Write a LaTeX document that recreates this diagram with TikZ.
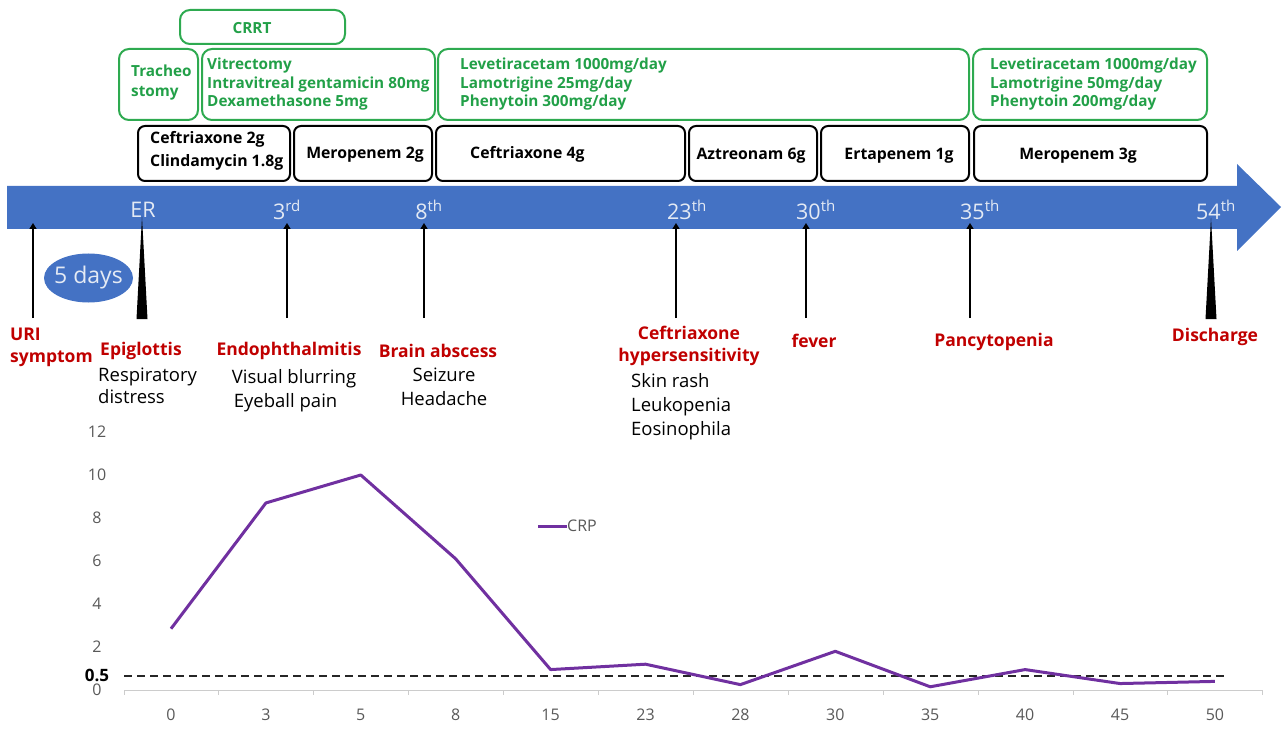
\documentclass[tikz,border=0pt]{standalone}
\usepackage{fontspec}
\setmainfont{Open Sans}
\usetikzlibrary{arrows.meta,shapes.geometric}
\definecolor{tlblue}{HTML}{4472C4}
\definecolor{tltext}{HTML}{E4EAF4}
\definecolor{grn}{HTML}{2EAA50}
\definecolor{grntext}{HTML}{22A048}
\definecolor{dred}{HTML}{C00000}
\definecolor{purp}{HTML}{7030A0}
\definecolor{axgray}{HTML}{595959}
\newcommand{\fs}[2]{\fontsize{#1}{#2}\selectfont}
\tikzset{
  drugbox/.style={draw=black, line width=2pt, rounded corners=7pt, inner sep=0pt},
  procbox/.style={draw=grn, line width=2pt, rounded corners=10pt, inner sep=0pt},
  drugtext/.style={inner sep=0pt, font=\bfseries\fs{15.8}{23}, align=left},
  proctext/.style={inner sep=0pt, font=\bfseries\fs{15.3}{18.5}, align=left, text=grntext},
  bandtext/.style={inner sep=0pt, text=tltext, font=\fs{21.5}{24}},
  evtred/.style={inner sep=0pt, text=dred, font=\bfseries\fs{17.5}{22}, align=center},
  evtblack/.style={inner sep=0pt, text=black, font=\fs{18.5}{24}},
  uparrow/.style={line width=2pt, -{Triangle[width=7pt,length=6pt]}},
  axlabel/.style={inner sep=0pt, text=axgray, font=\fs{16}{18}},
}
\begin{document}
\begin{tikzpicture}[x=1pt,y=-1pt]
\useasboundingbox (0,0) rectangle (1288,730);
% ---------- timeline band ----------
\fill[tlblue] (7,186) -- (1237,186) -- (1237,164) -- (1281,207) -- (1237,251) -- (1237,229) -- (7,229) -- cycle;
\node[bandtext] (tER) at (143,210) {ER};
\node[bandtext] (t3) at (287,210) {3\textsuperscript{rd}};
\node[bandtext] (t8) at (429,210) {8\textsuperscript{th}};
\node[bandtext] (t23) at (687,210) {23\textsuperscript{th}};
\node[bandtext] (t30) at (816,210) {30\textsuperscript{th}};
\node[bandtext] (t35) at (980,210) {35\textsuperscript{th}};
\node[bandtext] (t54) at (1216,210) {54\textsuperscript{th}};
% ---------- green procedure boxes ----------
\node[procbox, minimum width=165pt, minimum height=34pt] (crrt) at (262.5,27) {};
\node[proctext] (crrtT) at (252,28) {CRRT};
\node[procbox, minimum width=79pt, minimum height=71pt] (g1) at (158.5,84.5) {};
\node[proctext, anchor=west, font=\bfseries\fs{15.3}{20}] (g1T) at (131,83) {Tracheo\\stomy};
\node[procbox, minimum width=233pt, minimum height=71pt] (g2) at (318.5,84.5) {};
\node[proctext, anchor=west] (g2T) at (207,84.5) {Vitrectomy\\Intravitreal gentamicin 80mg\\Dexamethasone 5mg};
\node[procbox, minimum width=531pt, minimum height=71pt] (g3) at (703.5,84.5) {};
\node[proctext, anchor=west] (g3T) at (460,84.5) {Levetiracetam 1000mg/day\\Lamotrigine 25mg/day\\Phenytoin 300mg/day};
\node[procbox, minimum width=234pt, minimum height=71pt] (g4) at (1090,84.5) {};
\node[proctext, anchor=west] (g4T) at (990,84.5) {Levetiracetam 1000mg/day\\Lamotrigine 50mg/day\\Phenytoin 200mg/day};
% ---------- antibiotic boxes ----------
\node[drugbox, minimum width=152pt, minimum height=55pt] (b1) at (214,153.5) {};
\node[drugtext, anchor=west] (b1T) at (150,151) {Ceftriaxone 2g\\Clindamycin 1.8g};
\node[drugbox, minimum width=138pt, minimum height=55pt] (b2) at (363,153.5) {};
\node[drugtext] (b2T) at (365,155) {Meropenem 2g};
\node[drugbox, minimum width=249pt, minimum height=55pt] (b3) at (560.5,153.5) {};
\node[drugtext, anchor=west] (b3T) at (470,154) {Ceftriaxone 4g};
\node[drugbox, minimum width=128pt, minimum height=55pt] (b4) at (753,153.5) {};
\node[drugtext] (b4T) at (751,156) {Aztreonam 6g};
\node[drugbox, minimum width=148pt, minimum height=55pt] (b5) at (895,153.5) {};
\node[drugtext] (b5T) at (899,156) {Ertapenem 1g};
\node[drugbox, minimum width=233pt, minimum height=55pt] (b6) at (1090.5,153.5) {};
\node[drugtext] (b6T) at (1078,156) {Meropenem 3g};
% ---------- event arrows ----------
\coordinate (aURIb) at (33,318);  \coordinate (aURIt) at (33,223);
\coordinate (a3b) at (287,318);   \coordinate (a3t) at (287,223);
\coordinate (a8b) at (424,318);   \coordinate (a8t) at (424,223);
\coordinate (a23b) at (676,318);  \coordinate (a23t) at (676,223);
\coordinate (a30b) at (806,318);  \coordinate (a30t) at (806,223);
\coordinate (a35b) at (970,318);  \coordinate (a35t) at (970,223);
\draw[uparrow] (aURIb) -- (aURIt);
\draw[uparrow] (a3b) -- (a3t);
\draw[uparrow] (a8b) -- (a8t);
\draw[uparrow] (a23b) -- (a23t);
\draw[uparrow] (a30b) -- (a30t);
\draw[uparrow] (a35b) -- (a35t);
\coordinate (wER) at (142,217);
\coordinate (wD) at (1211,218);
\fill[black] ([xshift=-5.5pt]wER |- 0,319) -- (wER) -- ([xshift=5.5pt]wER |- 0,319) -- cycle;
\fill[black] ([xshift=-5.5pt]wD |- 0,319) -- (wD) -- ([xshift=5.5pt]wD |- 0,319) -- cycle;
% 5 days
\node[ellipse, fill=tlblue, minimum width=89pt, minimum height=49pt, inner sep=0pt] (days) at (88.5,278) {};
\node[inner sep=0pt, text=tltext, font=\fs{23}{26}] (daysT) at (days.center) {5 days};
% ---------- event labels ----------
\node[evtred, anchor=west, align=left] (eURI) at (10,347) {URI\\symptom};
\node[evtred, anchor=west] (eEpi) at (100,351) {Epiglottis};
\node[evtblack, anchor=north west, align=left, font=\fs{18.5}{22}] (eEpiS) at (98,368) {Respiratory\\distress};
\node[evtred] (eEndo) at (289,351) {Endophthalmitis};
\node[evtblack, anchor=north, align=left] (eEndoS) at (294,369) {Visual blurring\\\hspace*{2pt}Eyeball pain};
\node[evtred] (eBrain) at (438,351) {Brain abscess};
\node[evtblack, anchor=north, align=center] (eBrainS) at (444,368) {Seizure\\Headache};
\node[evtred] (eCef) at (689,346) {Ceftriaxone\\hypersensitivity};
\node[evtblack, anchor=north west, align=left] (eCefS) at (631,373) {Skin rash\\Leukopenia\\Eosinophila};
\node[evtred] (eFev) at (814,341) {fever};
\node[evtred] (ePan) at (994,342) {Pancytopenia};
\node[evtred] (eDis) at (1215,337) {Discharge};
% ---------- CRP chart ----------
\foreach \v/\lab in {0/0,2/2,4/4,6/6,8/8,10/10,12/12}
  \node[axlabel] (y\lab) at (97,{690-21.5*\v}) {\lab};
\draw[black!20, line width=1pt] (124,690) -- (1263,690);
\foreach \k in {0,...,12}
  \draw[black!20, line width=1pt] ({124+94.9*\k},690) -- ({124+94.9*\k},695);
\foreach \lab [count=\i from 0] in {0,3,5,8,15,23,28,30,35,40,45,50}
  \node[axlabel] (x\i) at ({171+94.9*\i},715) {\lab};
\draw[black!85, line width=1.8pt, dash pattern=on 8pt off 5pt] (124,676) -- (1225,676);
\node[inner sep=0pt, font=\bfseries\fs{17}{18}] (half) at (97,675) {0.5};
\foreach \val [count=\i from 0] in {2.85,8.7,10.0,6.1,0.95,1.2,0.25,1.8,0.15,0.95,0.3,0.4}
  \coordinate (p\i) at ({171+94.9*\i},{690-21.5*\val});
\draw[purp, line width=3pt, line join=round] (p0) -- (p1) -- (p2) -- (p3) -- (p4) -- (p5) -- (p6) -- (p7) -- (p8) -- (p9) -- (p10) -- (p11);
\coordinate (lg1) at (538,526); \coordinate (lg2) at (567,526);
\draw[purp, line width=3pt] (lg1) -- (lg2);
\node[axlabel, anchor=west] (lgT) at (lg2) {CRP};
\end{tikzpicture}
\end{document}
